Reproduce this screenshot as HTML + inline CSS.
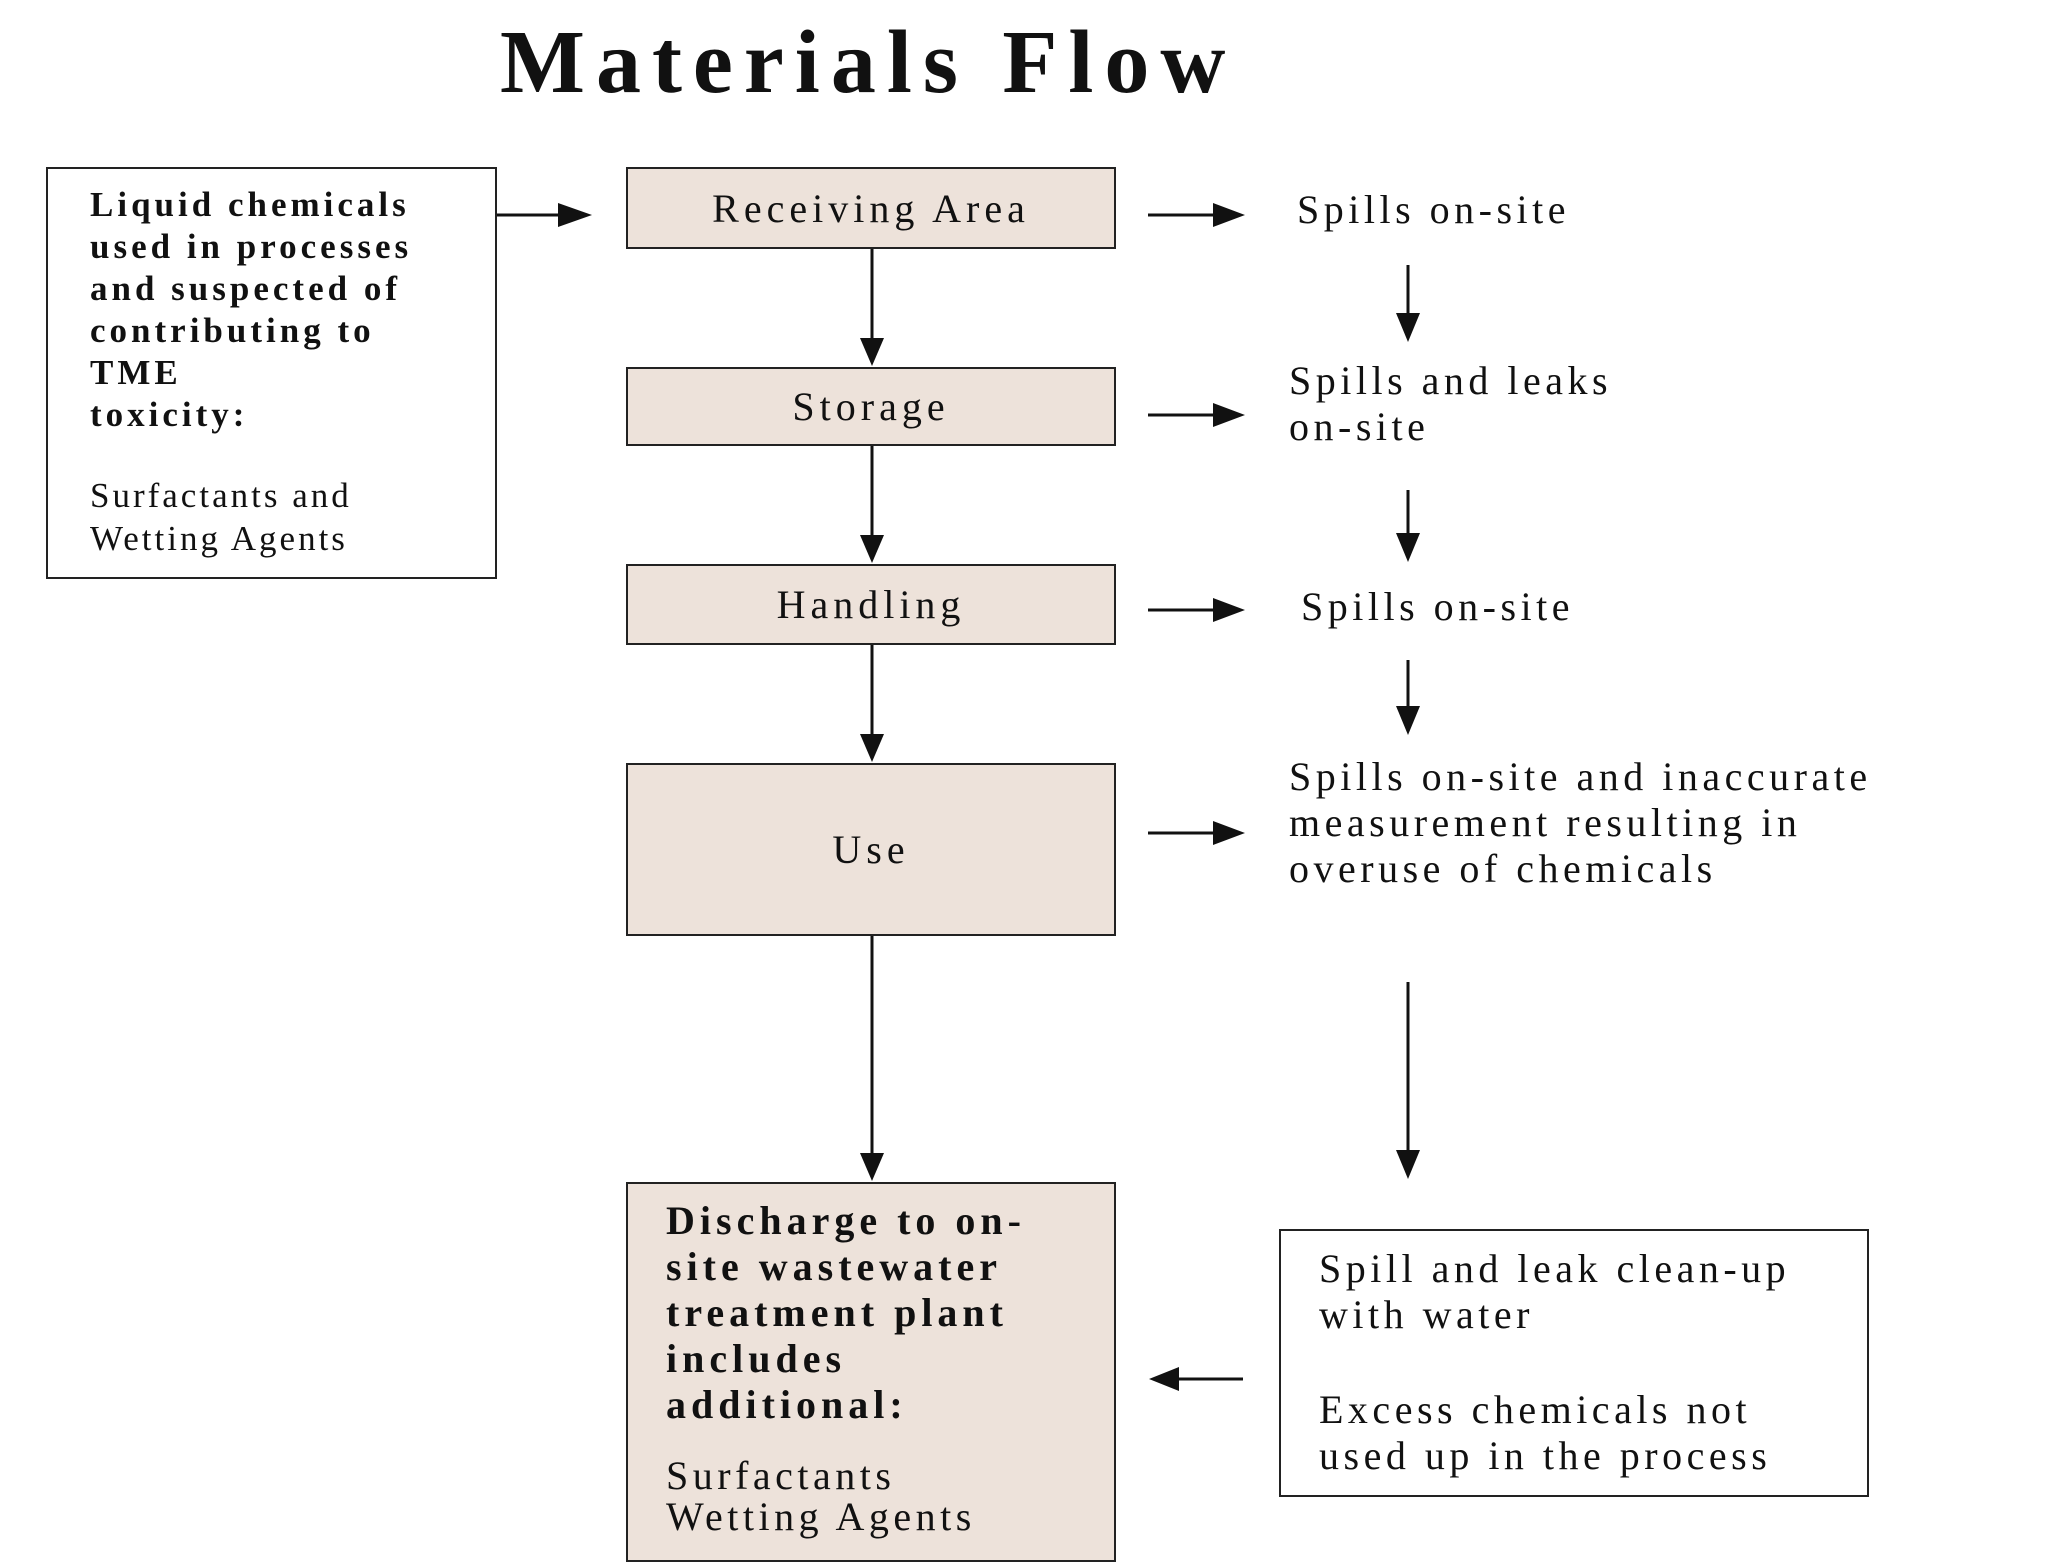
<!DOCTYPE html>
<html><head><meta charset="utf-8"><style>
body{margin:0;width:2048px;height:1536px;background:#fff;position:relative;overflow:hidden;font-family:"Liberation Serif",serif;color:#111}
.b{position:absolute;border:2px solid #222;box-sizing:border-box}
.f{background:#ede2da}
.t{position:absolute;white-space:nowrap;font-size:40px;line-height:46px;letter-spacing:4.5px}
.c{display:flex;align-items:center;justify-content:center;font-size:40px;letter-spacing:5px}
svg{position:absolute;left:0;top:0}
</style></head><body>
<div class="t" style="left:500px;top:8px;font-size:90px;line-height:110px;font-weight:bold;letter-spacing:11px">Materials Flow</div>

<div class="b" style="left:46px;top:167px;width:451px;height:412px"></div>
<div class="t" style="left:90px;top:184px;font-size:35px;line-height:42px;font-weight:bold;letter-spacing:4px">Liquid chemicals<br>used in processes<br>and suspected of<br>contributing to<br>TME<br>toxicity:</div>
<div class="t" style="left:90px;top:474px;font-size:35px;line-height:43px;letter-spacing:3px">Surfactants and<br>Wetting Agents</div>

<div class="b f c" style="left:626px;top:167px;width:490px;height:82px">Receiving Area</div>
<div class="b f c" style="left:626px;top:367px;width:490px;height:79px">Storage</div>
<div class="b f c" style="left:626px;top:564px;width:490px;height:81px">Handling</div>
<div class="b f c" style="left:626px;top:763px;width:490px;height:173px">Use</div>
<div class="b f" style="left:626px;top:1182px;width:490px;height:380px"></div>
<div class="t" style="left:666px;top:1198px;font-weight:bold;line-height:46px;letter-spacing:5px">Discharge to on-<br>site wastewater<br>treatment plant<br>includes<br>additional:</div>
<div class="t" style="left:666px;top:1455px;line-height:41px">Surfactants<br>Wetting Agents</div>

<div class="t" style="left:1297px;top:187px">Spills on-site</div>
<div class="t" style="left:1289px;top:358px">Spills and leaks<br>on-site</div>
<div class="t" style="left:1301px;top:584px">Spills on-site</div>
<div class="t" style="left:1289px;top:754px">Spills on-site and inaccurate<br>measurement resulting in<br>overuse of chemicals</div>

<div class="b" style="left:1279px;top:1229px;width:590px;height:268px"></div>
<div class="t" style="left:1319px;top:1246px">Spill and leak clean-up<br>with water</div>
<div class="t" style="left:1319px;top:1387px">Excess chemicals not<br>used up in the process</div>

<svg width="2048" height="1536">
<g stroke="#111" stroke-width="3" fill="none">
<line x1="497" y1="215" x2="560" y2="215"/>
<line x1="1148" y1="215" x2="1215" y2="215"/>
<line x1="1148" y1="415" x2="1215" y2="415"/>
<line x1="1148" y1="610" x2="1215" y2="610"/>
<line x1="1148" y1="833" x2="1215" y2="833"/>
<line x1="872" y1="249" x2="872" y2="340"/>
<line x1="872" y1="446" x2="872" y2="537"/>
<line x1="872" y1="645" x2="872" y2="736"/>
<line x1="872" y1="936" x2="872" y2="1155"/>
<line x1="1408" y1="265" x2="1408" y2="315"/>
<line x1="1408" y1="490" x2="1408" y2="535"/>
<line x1="1408" y1="660" x2="1408" y2="708"/>
<line x1="1408" y1="982" x2="1408" y2="1152"/>
<line x1="1243" y1="1379" x2="1177" y2="1379"/>
</g>
<g fill="#111">
<path d="M558,203 L592,215 L558,227z"/>
<path d="M1213,203 L1245,215 L1213,227z"/>
<path d="M1213,403 L1245,415 L1213,427z"/>
<path d="M1213,598 L1245,610 L1213,622z"/>
<path d="M1213,821 L1245,833 L1213,845z"/>
<path d="M860,338 L872,366 L884,338z"/>
<path d="M860,535 L872,563 L884,535z"/>
<path d="M860,734 L872,762 L884,734z"/>
<path d="M860,1153 L872,1181 L884,1153z"/>
<path d="M1396,313 L1408,342 L1420,313z"/>
<path d="M1396,533 L1408,562 L1420,533z"/>
<path d="M1396,706 L1408,735 L1420,706z"/>
<path d="M1396,1150 L1408,1179 L1420,1150z"/>
<path d="M1179,1367 L1149,1379 L1179,1391z"/>
</g>
</svg>
</body></html>
